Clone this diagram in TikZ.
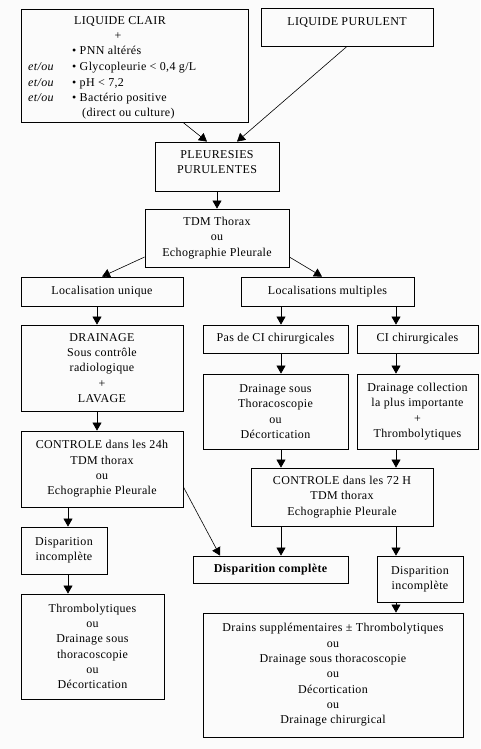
\documentclass[tikz,border=0pt]{standalone}
\usepackage{fontspec}
\setmainfont[LetterSpace=3]{Liberation Serif}
\usetikzlibrary{arrows.meta,calc}
\definecolor{bgc}{RGB}{251,251,251}
\newcommand\mkbox[6]{\node[box, minimum width={#4-#2}, minimum height={#5-#3}] (#1) at ({(#2+#4)/2},{(#3+#5)/2}) {#6};}
\begin{document}
\begin{tikzpicture}[x=1pt, y=-1pt,
  font=\fontsize{12}{15.3}\selectfont,
  box/.style={draw, line width=0.8pt, inner sep=0pt, align=center},
  txt/.style={inner sep=0pt},
  arr/.style={-{Triangle[length=8pt,width=9pt]}, line width=0.6pt}]
\fill[bgc] (0,0) rectangle (480,749);
\useasboundingbox (0,0) rectangle (480,749);
% boxes
\mkbox{clair}{21}{9}{248}{122}{}
\node[txt, anchor=base] (t1) at (120,25) {LIQUIDE CLAIR};
\node[txt, anchor=base] (t2) at (118,40) {+};
\node[txt, anchor=base west] (t3) at (72,55) {\textbullet\ PNN altérés};
\node[txt, anchor=base west] (t4) at (72,71) {\textbullet\ Glycopleurie < 0,4 g/L};
\node[txt, anchor=base west] (t5) at (72,87) {\textbullet\ pH < 7,2};
\node[txt, anchor=base west] (t6) at (72,102) {\textbullet\ Bactério positive};
\node[txt, anchor=base west] (t7) at (82,117) {(direct ou culture)};
\node[txt, anchor=base west] (e1) at (28,71) {\itshape et/ou};
\node[txt, anchor=base west] (e2) at (28,87) {\itshape et/ou};
\node[txt, anchor=base west] (e3) at (28,102) {\itshape et/ou};
\mkbox{purulent}{261}{8}{433}{46}{LIQUIDE PURULENT\\[-5pt]\mbox{}}
\mkbox{pleur}{155}{142}{279}{191}{PLEURESIES\\PURULENTES\\[-6pt]\mbox{}}
\mkbox{tdm}{145}{209}{289}{267}{TDM Thorax\\ou\\Echographie Pleurale}
\mkbox{locu}{21}{277}{183}{306}{Localisation unique}
\mkbox{locm}{241}{277}{414}{306}{Localisations multiples}
\mkbox{drain}{21}{325}{183}{411}{DRAINAGE\\Sous contrôle\\radiologique\\+\\LAVAGE}
\mkbox{pasci}{203}{325}{348}{353}{Pas de CI chirurgicales}
\mkbox{ci}{357}{325}{478}{353}{CI chirurgicales}
\mkbox{drsous}{203}{374}{348}{449}{Drainage sous\\Thoracoscopie\\ou\\Décortication}
\mkbox{drcoll}{357}{374}{478}{449}{Drainage collection\\la plus importante\\+\\Thrombolytiques}
\mkbox{ctrl24}{21}{431}{183}{507}{CONTROLE dans les 24h\\TDM thorax\\ou\\Echographie Pleurale}
\mkbox{ctrl72}{251}{468}{433}{526}{CONTROLE dans les 72 H\\TDM thorax\\Echographie Pleurale}
\mkbox{dincl}{21}{527}{107}{574}{Disparition\\incomplète}
\mkbox{dcomp}{193}{556}{348}{583}{\bfseries Disparition complète}
\mkbox{dincr}{377}{556}{463}{602}{Disparition\\incomplète}
\mkbox{thromb}{21}{594}{164}{699}{Thrombolytiques\\ou\\Drainage sous\\thoracoscopie\\ou\\Décortication}
\mkbox{drains}{203}{613}{463}{737}{Drains supplémentaires ± Thrombolytiques\\ou\\Drainage sous thoracoscopie\\ou\\Décortication\\ou\\Drainage chirurgical}
% columns
\coordinate (cA) at (68,0);
\coordinate (cB) at (97,0);
\coordinate (cC) at (281,0);
\coordinate (cD) at (396,0);
\coordinate (cE) at (220,0);
% arrows
\draw[arr] ([xshift=48.5pt]clair.south) -- ([xshift=-10pt]pleur.north);
\draw[arr] (purulent.south) -- ([xshift=20pt]pleur.north);
\draw[arr] (pleur.south) -- (tdm.north);
\draw[arr] ([yshift=-19pt]tdm.west) -- (locu.north);
\draw[arr] ([yshift=-19pt]tdm.east) -- ([xshift=-5.5pt]locm.north);
\draw[arr] (locu.south -| cB) -- (drain.north -| cB);
\draw[arr] (locm.south -| cC) -- (pasci.north -| cC);
\draw[arr] (locm.south -| cD) -- (ci.north -| cD);
\draw[arr] (pasci.south -| cC) -- (drsous.north -| cC);
\draw[arr] (ci.south -| cD) -- (drcoll.north -| cD);
\draw[arr] (drain.south -| cB) -- (ctrl24.north -| cB);
\draw[arr] (drsous.south -| cC) -- (ctrl72.north -| cC);
\draw[arr] (drcoll.south -| cD) -- (ctrl72.north -| cD);
\draw[arr] (ctrl24.south -| cA) -- (dincl.north -| cA);
\draw[arr] ([yshift=-18pt]ctrl24.east) -- (dcomp.north -| cE);
\draw[arr] (ctrl72.south -| cC) -- (dcomp.north -| cC);
\draw[arr] (ctrl72.south -| cD) -- (dincr.north -| cD);
\draw[arr] (dincl.south -| cA) -- (thromb.north -| cA);
\draw[arr] (dincr.south -| cD) -- (drains.north -| cD);
\end{tikzpicture}
\end{document}
